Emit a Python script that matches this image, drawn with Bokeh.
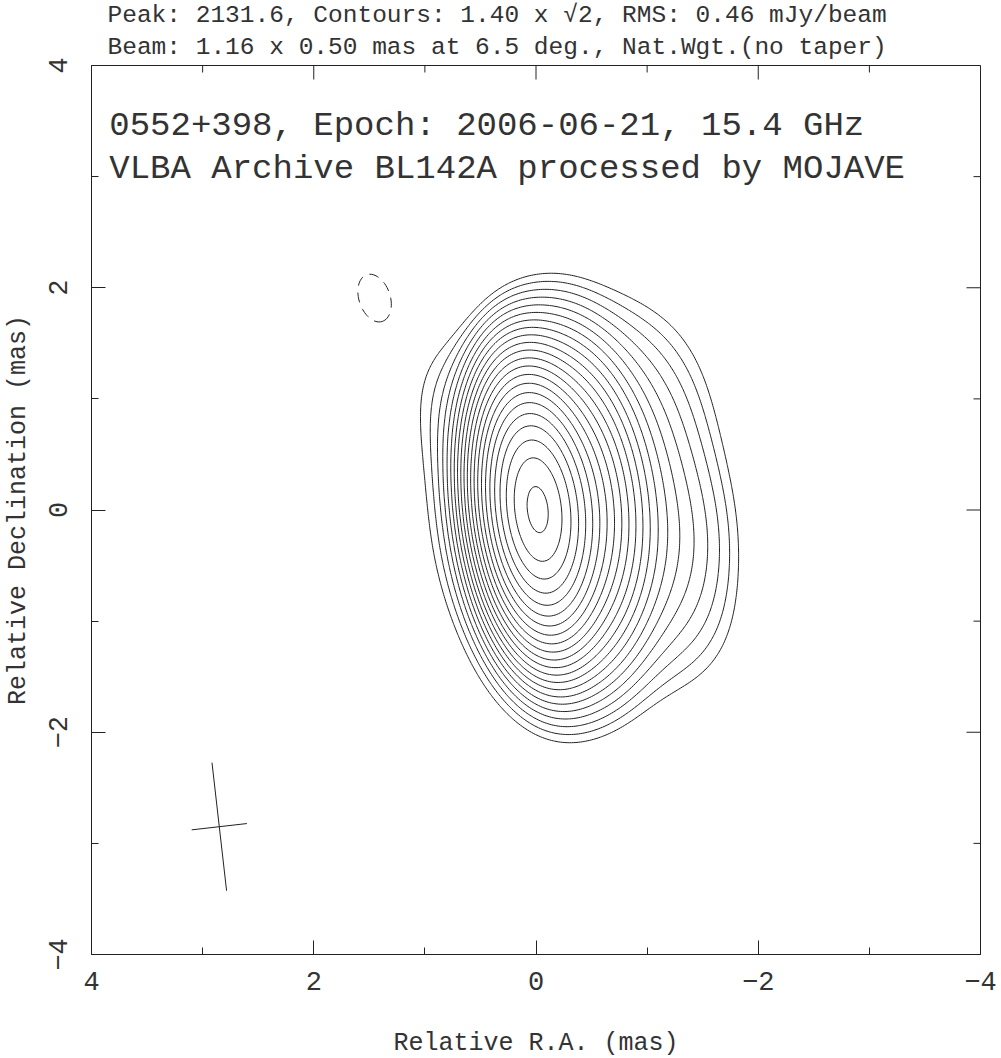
import numpy as np
import contourpy
from bokeh.plotting import figure
from bokeh.models import Range1d, FixedTicker, Label, Title, CustomJSTickFormatter
from bokeh.embed import file_html
from bokeh.resources import INLINE

# ---------------- texts ----------------
title_line1 = "Peak: 2131.6, Contours: 1.40 x \u221a2, RMS: 0.46 mJy/beam"
title_line2 = "Beam: 1.16 x 0.50 mas at 6.5 deg., Nat.Wgt.(no taper)"
source_line1 = "0552+398, Epoch: 2006-06-21, 15.4 GHz"
source_line2 = "VLBA Archive BL142A processed by MOJAVE"
x_label = "Relative R.A. (mas)"
y_label = "Relative Declination (mas)"

# ---------------- map values ----------------
peak_flux = 2131.6          # mJy/beam
lowest_contour = 1.40       # mJy/beam
contour_factor = np.sqrt(2)
beam_major = 1.16           # mas
beam_minor = 0.50           # mas
beam_pa = 6.5               # deg
beam_ra = 2.85
beam_dec = -2.85

tick_values = [4, 2, 0, -2, -4]
minor_tick_values = [3, 1, -1, -3]

# points read on the lowest (1.40 mJy/beam) contour
outer_ra = [-0.19, 0.17, 0.47, 0.77, 0.92, 1.01, 1.02, 1.00, 0.95, 0.89, 0.80,
            0.68, 0.53, 0.35, 0.17, -0.01, -0.19, -0.58, -1.00, -1.33, -1.63,
            -1.78, -1.80, -1.78, -1.75, -1.63, -1.48, -1.33, -1.18, -0.88, -0.58]
outer_dec = [2.12, 2.00, 1.87, 1.60, 1.35, 1.08, 0.72, 0.15, -0.20, -0.53, -0.86,
             -1.16, -1.46, -1.73, -1.94, -2.05, -2.06, -2.00, -1.85, -1.55, -1.28,
             -1.07, -0.65, -0.05, 0.27, 0.79, 1.17, 1.53, 1.71, 1.93, 2.05]

# points read on inner contours (contour number k: level = 1.40 * sqrt2**k)
inner_ra = [0.0, 0.0, 0.063, -0.063, 0.0, 0.0, 0.22, -0.23,
            0.0, 0.0, -0.61, 0.0, 0.0, -1.00, 0.0, 0.0, -1.38]
inner_dec = [0.157, -0.157, 0.0, 0.0, 0.45, -0.44, 0.0, 0.0,
             1.09, -1.05, 0.0, 1.51, -1.44, 0.0, 1.78, -1.75, 0.0]
inner_k = [21, 21, 21, 21, 20, 20, 20, 20,
           15, 15, 15, 10, 10, 10, 5, 5, 5]

# negative (dashed) contour: centre, half axes, position angle
neg_ra, neg_dec = 1.444, 1.897
neg_half_major, neg_half_minor, neg_pa = 0.24, 0.15, 20.0

# shapes of the smooth brightness components (x0, y0, sigma_major, sigma_minor, PA)
comp_x0 = [0.0, -0.25, 0.0, -0.6, -0.8, -1.1, 0.3, -0.4, -0.7, 0.3, -0.2, -0.2, -1.2, 0.6, 0.5,
           -1.3, -1.3, 0.6, 0.0, -0.2]
comp_y0 = [0.0, 0.05, 0.0, 0.3, -0.4, 0.0, 0.4, -0.9, 1.0, -0.5, 1.2, -1.2, -0.8, 0.8, -0.8,
           -0.3, 0.6, 0.2, 1.6, -1.6]
comp_smaj = [beam_major / 2.3548, 0.60, 0.75, 0.80, 0.80, 0.90, 0.80, 0.70, 0.60, 0.70, 0.60, 0.60,
             0.60, 0.60, 0.60, 0.50, 0.50, 0.60, 0.50, 0.50]
comp_smin = [beam_minor / 2.3548, 0.30, 0.40, 0.45, 0.45, 0.40, 0.40, 0.50, 0.50, 0.40, 0.50, 0.50,
             0.40, 0.35, 0.35, 0.35, 0.35, 0.30, 0.40, 0.40]
comp_pa = [beam_pa, 6.5, 20, 10, 20, 0, 20, 40, -30, 20, 0, 0, 30, 20, 20,
           0, 0, 0, 0, 0]


def gauss(x, y, x0, y0, smaj, smin, pa):
    t = np.deg2rad(pa)
    dx = x - x0
    dy = y - y0
    a = dx * np.sin(t) + dy * np.cos(t)
    b = dx * np.cos(t) - dy * np.sin(t)
    return np.exp(-0.5 * ((a / smaj) ** 2 + (b / smin) ** 2))


comps = list(zip(comp_x0, comp_y0, comp_smaj, comp_smin, comp_pa))

# constraint points
cx = np.array([0.0] + outer_ra + inner_ra)
cy = np.array([0.0] + outer_dec + inner_dec)
clev = np.array([peak_flux] + [lowest_contour] * len(outer_ra)
                + [lowest_contour * contour_factor ** k for k in inner_k])
wts = np.ones_like(clev)
wts[0] = 3.0
G = np.column_stack([gauss(cx, cy, *c) for c in comps])
Gw = G * (wts / clev)[:, None]
Lw = wts.copy()
active = list(range(len(comps)))
while True:
    sol = np.linalg.lstsq(Gw[:, active], Lw, rcond=None)[0]
    if sol.min() >= 0 or len(active) == 1:
        break
    active.pop(int(np.argmin(sol)))
amps = np.zeros(len(comps))
amps[active] = np.clip(sol, 0, None)

# brightness grid
gx = np.linspace(-4, 4, 401)
gy = np.linspace(-4, 4, 401)
X, Y = np.meshgrid(gx, gy)
Z = np.zeros_like(X)
for a, c in zip(amps, comps):
    if a > 0:
        Z += a * gauss(X, Y, *c)
neg_amp = -2.4
fac = np.sqrt(2 * np.log(abs(neg_amp) / lowest_contour))
Z += neg_amp * gauss(X, Y, neg_ra, neg_dec, neg_half_major / fac, neg_half_minor / fac, neg_pa)

levels = []
k = 0
while lowest_contour * contour_factor ** k < peak_flux:
    levels.append(lowest_contour * contour_factor ** k)
    k += 1

gen = contourpy.contour_generator(gx, gy, Z)
pos_xs, pos_ys = [], []
for lev in levels:
    for seg in gen.lines(lev):
        pos_xs.append(seg[:, 0].tolist())
        pos_ys.append(seg[:, 1].tolist())
neg_xs, neg_ys = [], []
for seg in gen.lines(-lowest_contour):
    neg_xs.append(seg[:, 0].tolist())
    neg_ys.append(seg[:, 1].tolist())

# ---------------- figure ----------------
FONT = "Liberation Mono"
INK = "#222222"
TXT = "#333333"
FRAME = 889
MAS_PER_PX = 8.0 / FRAME

p = figure(frame_width=FRAME, frame_height=FRAME,
           x_range=Range1d(4, -4), y_range=Range1d(-4, 4),
           output_backend="svg", toolbar_location=None,
           min_border_left=91, min_border_right=21,
           min_border_top=63, min_border_bottom=106)
p.xgrid.visible = False
p.ygrid.visible = False
p.outline_line_color = INK
p.outline_line_width = 1
p.background_fill_color = "white"
p.border_fill_color = "white"

fmt = CustomJSTickFormatter(code="return tick < 0 ? '\\u2212' + Math.abs(tick) : String(tick);")

for ax in (p.xaxis[0], p.yaxis[0]):
    ax.ticker = FixedTicker(ticks=tick_values, minor_ticks=minor_tick_values)
    ax.formatter = fmt
    ax.major_tick_in = 14
    ax.major_tick_out = 0
    ax.minor_tick_in = 7
    ax.minor_tick_out = 0
    ax.axis_line_color = INK
    ax.major_tick_line_color = INK
    ax.minor_tick_line_color = INK
    ax.major_label_text_font = FONT
    ax.major_label_text_color = TXT
    ax.major_label_text_font_size = "27px"
    ax.axis_label_text_font = FONT
    ax.axis_label_text_font_size = "25px"
    ax.axis_label_text_font_style = "normal"
    ax.axis_label_text_color = TXT

p.xaxis[0].major_label_standoff = 17
p.xaxis[0].axis_label = x_label
p.xaxis[0].axis_label_standoff = 36
p.yaxis[0].major_label_orientation = "vertical"
p.yaxis[0].major_label_standoff = 25
p.yaxis[0].axis_label = y_label
p.yaxis[0].axis_label_standoff = 13

# inward ticks on the top and right edges
L_major = 14 * MAS_PER_PX
L_minor = 7 * MAS_PER_PX
edge_ticks = tick_values + minor_tick_values
edge_len = [L_major] * len(tick_values) + [L_minor] * len(minor_tick_values)
p.segment(x0=edge_ticks, y0=[4.0] * len(edge_ticks), x1=edge_ticks,
          y1=[4.0 - l for l in edge_len], line_color=INK, line_width=1)
p.segment(x0=[-4.0] * len(edge_ticks), y0=edge_ticks,
          x1=[-4.0 + l for l in edge_len], y1=edge_ticks, line_color=INK, line_width=1)

# contours
p.multi_line(pos_xs, pos_ys, line_color=INK, line_width=1)
p.multi_line(neg_xs, neg_ys, line_color=INK, line_width=1, line_dash="10 7")

# beam cross
t = np.deg2rad(beam_pa)
hx, hy = 0.5 * beam_major * np.sin(t), 0.5 * beam_major * np.cos(t)
mx, my = 0.5 * beam_minor * np.cos(t), -0.5 * beam_minor * np.sin(t)
p.segment(x0=[beam_ra - hx, beam_ra - mx], y0=[beam_dec - hy, beam_dec - my],
          x1=[beam_ra + hx, beam_ra + mx], y1=[beam_dec + hy, beam_dec + my],
          line_color=INK, line_width=1)

# titles above the frame (later-added sits higher)
p.add_layout(Title(text=title_line2, align="left", offset=16, standoff=9,
                   text_font=FONT, text_font_size="24.5px", text_font_style="normal",
                   text_color=TXT), "above")
p.add_layout(Title(text=title_line1, align="left", offset=16, standoff=-2,
                   text_font=FONT, text_font_size="24.5px", text_font_style="normal",
                   text_color=TXT), "above")

# source texts inside the frame
for txt, yy in [(source_line1, 3.46), (source_line2, 3.073)]:
    p.add_layout(Label(x=3.84, y=yy, text=txt, text_font=FONT, text_font_size="34px",
                       text_color=TXT, text_align="left", text_baseline="alphabetic"))

open("out.html", "w").write(file_html(p, INLINE))
